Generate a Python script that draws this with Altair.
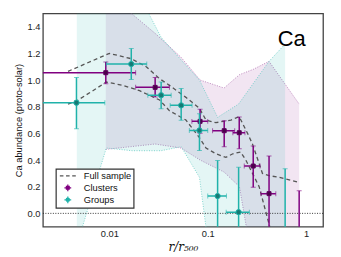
import altair as alt
import pandas as pd

# ---------------- data ----------------
# Clusters (purple)
cl_x   = [0.0092, 0.0292, 0.0836, 0.147, 0.209, 0.29, 0.42, 0.85]
cl_y   = [1.055, 0.945, 0.69, 0.62, 0.605, 0.355, 0.148, -0.3]
cl_xlo = [0.0015, 0.0185, 0.069, 0.112, 0.18, 0.235, 0.347, 0.6]
cl_xhi = [0.0185, 0.0408, 0.1, 0.188, 0.239, 0.34, 0.492, 1.1]
cl_ylo = [0.973, 0.873, 0.60, 0.50, 0.485, 0.196, -0.5, -0.8]
cl_yhi = [1.136, 1.019, 0.78, 0.695, 0.722, 0.505, 0.43, 0.17]

# Groups (teal)
gr_x   = [0.00463, 0.0167, 0.0336, 0.0537, 0.0824, 0.126, 0.206, 0.612]
gr_y   = [0.83, 1.12, 0.886, 0.81, 0.622, 0.13, 0.009, -0.3]
gr_xlo = [0.0015, 0.0093, 0.0246, 0.0415, 0.065, 0.1, 0.154, 0.45]
gr_xhi = [0.0090, 0.024, 0.0425, 0.0693, 0.1, 0.155, 0.265, 0.8]
gr_ylo = [0.635, 1.004, 0.785, 0.698, 0.472, -0.5, -0.5, -0.8]
gr_yhi = [1.019, 1.237, 0.986, 0.936, 0.748, 0.396, 0.346, 0.334]

# Scatter bands
cb_x  = [0.0092, 0.0292, 0.0536, 0.0836, 0.1466, 0.21, 0.29, 0.42, 0.85]
cb_lo = [0.48, 0.52, 0.49, 0.40, 0.31, 0.20, -0.4, -1.0, -1.0]
cb_hi = [1.66, 1.35, 1.17, 1.0, 0.94, 1.04, 1.08, 1.14, 0.82]

gb_x  = [0.00467, 0.0093, 0.017, 0.0336, 0.0537, 0.0824, 0.126, 0.206, 0.42, 0.612]
gb_lo = [-0.24, 0.49, 0.47, 0.47, 0.50, 0.27, -0.77, -1.0, -1.0, -1.0]
gb_hi = [2.6, 2.2, 1.74, 1.32, 1.15, 1.0, 0.72, 0.82, 1.14, 1.27]

# Full sample (dashed envelope)
fu_x  = [0.0038, 0.0100, 0.0167, 0.0237, 0.0324, 0.0408, 0.060, 0.082, 0.096,
         0.121, 0.172, 0.209, 0.254, 0.285, 0.36, 0.42, 0.532, 0.85]
fu_hi = [1.065, 1.20, 1.16, 1.10, 1.01, 0.96, 0.87, 0.79, 0.70,
         0.68, 0.70, 0.725, 0.60, 0.52, 0.30, 0.283, 0.27, 0.233]
fl_x  = [0.0038, 0.0048, 0.0068, 0.0093, 0.0137, 0.0203, 0.0324, 0.0408, 0.060,
         0.082, 0.096, 0.121, 0.153, 0.18, 0.216, 0.244, 0.333, 0.42, 0.5]
fl_lo = [0.82, 0.85, 0.92, 0.985, 0.96, 0.92, 0.85, 0.77, 0.70,
         0.57, 0.49, 0.447, 0.42, 0.447, 0.46, 0.40, 0.20, -0.08, -0.3]

y_ticks = [0.0, 0.2, 0.4, 0.6, 0.8, 1.0, 1.2, 1.4]
x_ticks = [0.01, 0.1, 1]
legend_labels = ["Full sample", "Clusters", "Groups"]
element_label = "Ca"

PURPLE = "#800080"
TEAL = "#20b2aa"
FONT = "Liberation Sans"

clusters = pd.DataFrame(dict(x=cl_x, y=cl_y, xlo=cl_xlo, xhi=cl_xhi, ylo=cl_ylo, yhi=cl_yhi))
groups = pd.DataFrame(dict(x=gr_x, y=gr_y, xlo=gr_xlo, xhi=gr_xhi, ylo=gr_ylo, yhi=gr_yhi))
cband = pd.DataFrame(dict(x=cb_x, lo=cb_lo, hi=cb_hi))
gband = pd.DataFrame(dict(x=gb_x, lo=gb_lo, hi=gb_hi))
full_hi = pd.DataFrame(dict(x=fu_x, y=fu_hi))
full_lo = pd.DataFrame(dict(x=fl_x, y=fl_lo))
zero = pd.DataFrame(dict(y=[0.0]))
label_df = pd.DataFrame(dict(x=[0.99], y=[1.257], t=[element_label]))
leg_df = pd.DataFrame(dict(x=[0.01] * 3, y=[0.5] * 3, cat=legend_labels))

xscale = alt.Scale(type="log", domain=[0.00211, 1.486], nice=False)
yscale = alt.Scale(domain=[-0.1, 1.5], nice=False, zero=False)
xaxis = alt.Axis(values=x_ticks, format="~g", title="r/r₅₀₀", grid=False,
                 ticks=False, domain=False, labelPadding=3, titlePadding=3,
                 titleFont="DejaVu Serif", titleFontStyle="italic",
                 titleFontWeight="normal", titleFontSize=12)
yaxis = alt.Axis(values=y_ticks, format=".1f", title="Ca abundance (proto-solar)",
                 grid=False, ticks=False, domain=False, labelPadding=3,
                 titlePadding=4, titleFontWeight="normal", titleFontSize=9.3)


def X(f):
    return alt.X(f, type="quantitative", scale=xscale, axis=xaxis)


def Y(f):
    return alt.Y(f, type="quantitative", scale=yscale, axis=yaxis)


def band(df, color, op, edge):
    area = alt.Chart(df).mark_area(color=color, opacity=op, clip=True).encode(
        x=X("x"), y=Y("lo"), y2="hi")
    l1 = alt.Chart(df).mark_line(color=edge, strokeWidth=0.8, strokeDash=[1, 1.5], clip=True).encode(
        x=X("x"), y=Y("lo"))
    l2 = alt.Chart(df).mark_line(color=edge, strokeWidth=0.8, strokeDash=[1, 1.5], clip=True).encode(
        x=X("x"), y=Y("hi"))
    return [area, l1, l2]


def errbars(df, color, mshape, msize, mfill, mstroke):
    base = alt.Chart(df)
    xr = base.mark_rule(color=color, strokeWidth=1.5, clip=True).encode(x=X("xlo"), x2="xhi", y=Y("y"))
    yr = base.mark_rule(color=color, strokeWidth=1.5, clip=True).encode(x=X("x"), y=Y("ylo"), y2="yhi")
    capx1 = base.mark_tick(color=color, orient="vertical", size=5, thickness=1, opacity=0.6, clip=True).encode(x=X("xlo"), y=Y("y"))
    capx2 = base.mark_tick(color=color, orient="vertical", size=5, thickness=1, opacity=0.6, clip=True).encode(x=X("xhi"), y=Y("y"))
    capy1 = base.mark_tick(color=color, orient="horizontal", size=5, thickness=1, opacity=0.6, clip=True).encode(x=X("x"), y=Y("ylo"))
    capy2 = base.mark_tick(color=color, orient="horizontal", size=5, thickness=1, opacity=0.6, clip=True).encode(x=X("x"), y=Y("yhi"))
    pts = base.mark_point(shape=mshape, size=msize, filled=True, fill=mfill, stroke=mstroke,
                          strokeWidth=1, opacity=1, clip=True).encode(x=X("x"), y=Y("y"))
    return [xr, yr, capx1, capx2, capy1, capy2, pts]


layers = []
layers += band(cband, PURPLE, 0.1, "#b070b0")
layers += band(gband, TEAL, 0.12, "#66ccc4")

layers.append(alt.Chart(zero).mark_rule(color="#222", strokeWidth=0.9, strokeDash=[1, 1.5]).encode(y=Y("y")))

for d in (full_hi, full_lo):
    layers.append(alt.Chart(d).mark_line(color="#555", strokeWidth=1.3, strokeDash=[4, 3], clip=True).encode(
        x=X("x"), y=Y("y")))

layers += errbars(clusters, PURPLE, "square", 16, "#4a004a", "#5a005a")
layers += errbars(groups, TEAL, "circle", 28, "#167a74", TEAL)

layers.append(alt.Chart(label_df).mark_text(align="right", baseline="alphabetic", fontSize=22,
                                            font=FONT, color="black").encode(
    x=X("x"), y=Y("y"), text="t:N"))

paths = [
    "M-2,0H-1.1M-0.45,0H0.45M1.1,0H2",
    "M-0.85,0H0.85M0,-0.85V0.85M-0.35,-0.35H0.35V0.35H-0.35Z",
    "M-0.85,0H0.85M0,-0.85V0.85M0.42,0A0.42,0.42 0 1,1 -0.42,0A0.42,0.42 0 1,1 0.42,0Z",
]
leg_colors = ["#555555", PURPLE, TEAL]
legend = alt.Legend(title=None, orient="none", legendX=13, legendY=156, padding=2,
                    symbolOffset=5, labelOffset=11, rowPadding=0, symbolSize=64,
                    symbolStrokeWidth=1.2, labelFontSize=9.3, labelFont=FONT,
                    strokeColor="#333", fillColor="white", cornerRadius=0,
                    labelColor="#111")
layers.append(alt.Chart(leg_df).transform_filter("false").mark_point(filled=True, opacity=1).encode(
    x=X("x"), y=Y("y"),
    fill=alt.Fill("cat:N", scale=alt.Scale(domain=legend_labels, range=leg_colors), legend=legend),
    stroke=alt.Stroke("cat:N", scale=alt.Scale(domain=legend_labels, range=leg_colors), legend=legend),
    shape=alt.Shape("cat:N", scale=alt.Scale(domain=legend_labels, range=paths), legend=legend),
))

chart = alt.layer(*layers).properties(
    width=281, height=214,
    autosize=alt.AutoSizeParams(type="none"),
    padding={"left": 35, "top": 5, "right": 10, "bottom": 28},
).configure_view(stroke="#444", strokeWidth=1.3).configure_axis(
    labelFont=FONT, titleFont=FONT, labelFontSize=9.3, labelColor="#222", titleColor="#111"
).configure_legend(strokeWidth=1.2)

chart.save("out.html", embed_options={"renderer": "svg", "actions": False})
